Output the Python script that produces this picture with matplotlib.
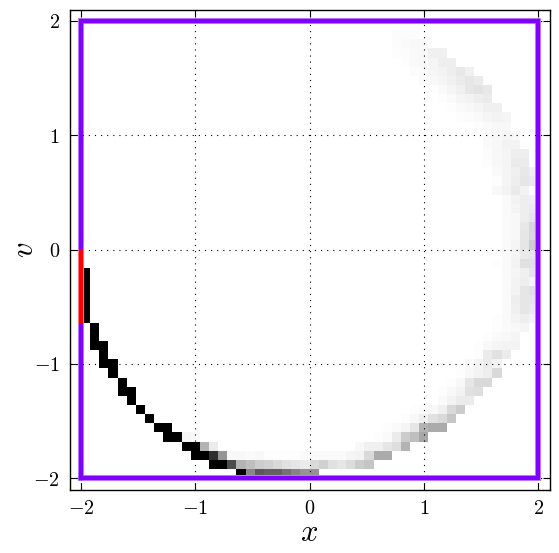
import numpy as np
import matplotlib
matplotlib.use('Agg')
import matplotlib.pyplot as plt

plt.rcParams['mathtext.fontset'] = 'cm'
plt.rcParams['font.family'] = 'serif'
plt.rcParams['font.serif'] = ['DejaVu Serif']

# histogram: 50x50 cells over [-2, 2], darkness 0..1, given as runs of cells
hist_range = [-2, 2]
n_bins = 50
run_row = [0, 1, 2, 3, 3, 4, 4, 5, 5, 6, 7, 8, 9, 10, 11, 12, 13, 14, 15, 16]
run_col = [17, 14, 12, 11, 30, 9, 32, 8, 33, 35, 36, 39, 39, 40, 41, 42, 43, 43, 44, 45]
run_val = [
    [1, .47, .65, .62, .62, .55, .48, .42, .42],
    [1, 1, .7, .3, .25, .2, .18, .15, .12, .1, .08, .15, .18, .12, .1, .14, .2, .23],
    [1, 1, .82, .42, .03, .03, .02, .03, .01, .01, .01, .01, .02, .02, .02, .02, .02, .04, .05, .15, .33, .33],
    [1, 1, .3, .08],
    [.03, .06, .06, .1, .13, .3],
    [1, 1, .04, .03],
    [.01, .02, .08, .2, .25, .35],
    [1, 1],
    [.01, .02, .04, .1, .3, .33, .33],
    [.01, .03, .06, .12, .15, .22],
    [.01, .02, .03, .06, .15, .2],
    [.02, .05, .08, .08],
    [.01, .03, .05, .12, .13],
    [.01, .03, .1, .15, .15],
    [.01, .03, .05, .07, .15],
    [.02, .05, .08, .05],
    [.01, .08, .12, .08],
    [.01, .03, .04, .05, .05],
    [.01, .02, .03, .04],
    [.01, .02, .03, .04],
]
# the steep black part of the arc and the faint upper part
col_runs_col = [0, 1, 2, 3, 4, 5, 6, 7, 8, 9, 10]
col_runs_row = [17, 14, 12, 11, 9, 8, 7, 6, 5, 4, 4]
col_runs_len = [6, 3, 3, 2, 2, 2, 1, 1, 1, 2, 1]
upper_row = list(range(17, 49))
upper_col = [45, 46, 46, 46, 46, 46, 45, 46, 46, 46, 46, 46, 46, 46, 45, 45, 45, 44, 44, 44, 43, 43, 41, 40, 39, 38, 37, 36, 35, 34, 34, 34]
upper_val = [
    [.01, .02, .05, .07, .05],
    [.02, .06, .1, .08],
    [.02, .07, .1, .1],
    [.02, .05, .1, .12],
    [.02, .05, .07, .04],
    [.02, .04, .06, .1],
    [.01, .02, .05, .12, .12],
    [.02, .04, .08, .1],
    [.02, .04, .1, .2],
    [.02, .03, .1, .15],
    [.02, .03, .09, .16],
    [.02, .03, .07, .1],
    [.02, .04, .07, .08],
    [.02, .05, .07, .06],
    [.03, .05, .08, .05],
    [.01, .04, .07, .1, .08],
    [.02, .04, .06, .09, .06],
    [.01, .03, .04, .08, .08],
    [.015, .03, .04, .07, .07],
    [.02, .03, .05, .05],
    [.005, .02, .03, .04, .03],
    [.01, .02, .03, .03],
    [.01, .015, .025, .04, .05, .04],
    [.01, .02, .03, .04, .06, .06],
    [.01, .02, .04, .05, .07, .08],
    [.01, .02, .04, .06, .1, .11, .09],
    [.02, .03, .04, .06, .08, .1, .08],
    [.015, .02, .04, .05, .07, .09, .06],
    [.01, .025, .03, .04, .07, .07],
    [.01, .015, .025, .03, .06, .06],
    [.015, .02, .03, .03],
    [.015, .015, .015],
]

# square box and the red start segment
box_x = [-2, 2, 2, -2, -2]
box_y = [-2, -2, 2, 2, -2]
red_x = [-2, -2]
red_y = [0, -0.64]

ticks = [-2, -1, 0, 1, 2]

hist = np.zeros((n_bins, n_bins))
for row, col, vals in zip(run_row, run_col, run_val):
    hist[row, col:col + len(vals)] = vals
for col, row, length in zip(col_runs_col, col_runs_row, col_runs_len):
    hist[row:row + length, col] = 1
for row, col, vals in zip(upper_row, upper_col, upper_val):
    hist[row, col:col + len(vals)] = vals

edges = np.linspace(hist_range[0], hist_range[1], n_bins + 1)

fig = plt.figure(figsize=(5.59, 5.53), dpi=100)
ax = fig.add_axes([69.5 / 559, 1 - 489.5 / 553, 480 / 559, 480 / 553])
ax.pcolormesh(edges, edges, hist, cmap='gray_r', vmin=0, vmax=1, zorder=1)
ax.plot(box_x, box_y, color='#cc99ff', lw=4.4, solid_joinstyle='miter', zorder=2)
ax.plot(box_x, box_y, color='#7f00ff', lw=3.2, solid_joinstyle='miter', zorder=3)
ax.plot(red_x, red_y, color='#ff9999', lw=4.4, solid_capstyle='butt', zorder=4)
ax.plot(red_x, red_y, color='#ff0000', lw=3.2, solid_capstyle='butt', zorder=5)

ax.set_xlim(-2.1, 2.1)
ax.set_ylim(-2.1, 2.1)
ax.set_xticks(ticks)
ax.set_yticks(ticks)
ax.set_xticklabels(['$%d$' % t for t in ticks])
ax.set_yticklabels(['$%d$' % t for t in ticks])
ax.tick_params(direction='in', top=True, right=True, length=5, width=0.8, labelsize=14.5, pad=7)
ax.grid(True, color='black', linestyle=(0, (1, 4.5)), linewidth=0.8, zorder=6)
ax.set_axisbelow(False)
for spine in ax.spines.values():
    spine.set_linewidth(1.0)

ax.set_xlabel('$x$', fontsize=22, labelpad=-1)
ax.set_ylabel('$v$', fontsize=22, labelpad=-5)

plt.savefig('out.png', dpi=100)
